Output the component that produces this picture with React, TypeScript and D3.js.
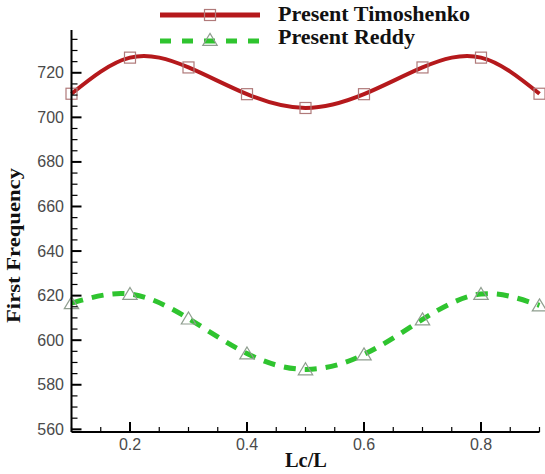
import React from "react";
import * as d3 from "d3";

const lcRatio = [0.1, 0.2, 0.3, 0.4, 0.5, 0.6, 0.7, 0.8, 0.9];
const timoshenko = [710.6, 726.8, 722.4, 710.4, 704.2, 710.4, 722.4, 726.8, 710.6];
const reddy = [616.6, 620.7, 609.7, 594.0, 586.9, 593.6, 609.3, 620.7, 615.6];
const xMajorTicks = [0.2, 0.4, 0.6, 0.8];
const yMajorTicks = [560, 580, 600, 620, 640, 660, 680, 700, 720];
const seriesNames = ["Present Timoshenko", "Present Reddy"];

const W = 545;
const H = 474;
const left = 71.5;
const right = 539.5;
const top = 30;
const bottom = 432;

export default function App() {
  const x = d3.scaleLinear().domain([0.1, 0.9]).range([left, right]);
  const y = d3.scaleLinear().domain([558.8, 739.2]).range([bottom, top]);

  const xMinor = d3.range(0.1, 0.9001, 0.05).filter(
    (v) => !xMajorTicks.some((m) => Math.abs(m - v) < 1e-6)
  );
  const yMinor = d3.range(560, 739, 5).filter((v) => v % 20 !== 0);

  const line = (vals: number[]) =>
    d3
      .line<number>()
      .x((_, i) => x(lcRatio[i]))
      .y((d) => y(d))
      .curve(d3.curveNatural)(vals) || "";

  const red = "#b5191c";
  const green = "#2fc42f";
  const sq = 11;
  const serif = "Liberation Serif, Times New Roman, serif";
  const sans = "Liberation Sans, Arial, sans-serif";
  const tri = (cx: number, cy: number, s: number) =>
    `M${cx},${cy - s * 0.55} L${cx + s * 0.6},${cy + s * 0.45} L${cx - s * 0.6},${cy + s * 0.45} Z`;

  return (
    <svg width={W} height={H} style={{ position: "absolute", left: 0, top: 0, background: "#fff" }}>
      {/* curves */}
      <path d={line(timoshenko)} fill="none" stroke={red} strokeWidth={4} />
      <path d={line(reddy)} fill="none" stroke={green} strokeWidth={5} strokeDasharray="12 9" />
      {/* markers */}
      {timoshenko.map((v, i) => (
        <rect
          key={"s" + i}
          x={x(lcRatio[i]) - sq / 2}
          y={y(v) - sq / 2}
          width={sq}
          height={sq}
          fill="none"
          stroke="#b07a7a"
          strokeWidth={1.2}
        />
      ))}
      {reddy.map((v, i) => (
        <path key={"t" + i} d={tri(x(lcRatio[i]), y(v), 12)} fill="none" stroke="#8f9e8f" strokeWidth={1.2} />
      ))}
      {/* axes */}
      <line x1={left} x2={left} y1={top} y2={bottom} stroke="#000" strokeWidth={2} />
      <line x1={left} x2={right} y1={bottom} y2={bottom} stroke="#000" strokeWidth={2} />
      {xMajorTicks.map((t) => (
        <g key={"xm" + t}>
          <line x1={x(t)} x2={x(t)} y1={bottom} y2={bottom - 10} stroke="#000" strokeWidth={2} />
          <text x={x(t)} y={450} textAnchor="middle" fontFamily={sans} fontSize={16} fill="#4a4a4a">
            {t.toFixed(1)}
          </text>
        </g>
      ))}
      {xMinor.map((t) => (
        <line key={"xn" + t} x1={x(t)} x2={x(t)} y1={bottom} y2={bottom - 5} stroke="#000" strokeWidth={1.2} />
      ))}
      {yMajorTicks.map((t) => (
        <g key={"ym" + t}>
          <line x1={left} x2={left + 10} y1={y(t)} y2={y(t)} stroke="#000" strokeWidth={2} />
          <text x={64} y={y(t) + 5.5} textAnchor="end" fontFamily={sans} fontSize={16} fill="#4a4a4a">
            {t}
          </text>
        </g>
      ))}
      {yMinor.map((t) => (
        <line key={"yn" + t} x1={left} x2={left + 6} y1={y(t)} y2={y(t)} stroke="#000" strokeWidth={1.2} />
      ))}
      {/* axis titles */}
      <text x={306} y={467} textAnchor="middle" fontFamily={serif} fontWeight="bold" fontSize={20} fill="#111"
        textLength={42} lengthAdjust="spacingAndGlyphs">
        Lc/L
      </text>
      <text
        transform={`translate(20,245.5) rotate(-90)`}
        textAnchor="middle"
        fontFamily={serif}
        fontWeight="bold"
        fontSize={19}
        fill="#111"
        textLength={155}
        lengthAdjust="spacingAndGlyphs"
      >
        First Frequency
      </text>
      {/* legend */}
      <line x1={160} x2={260} y1={15} y2={15} stroke={red} strokeWidth={5} />
      <rect x={210 - sq / 2} y={15 - sq / 2} width={sq} height={sq} fill="none" stroke="#b07a7a" strokeWidth={1.2} />
      <text x={278} y={20.5} fontFamily={serif} fontWeight="bold" fontSize={20} fill="#111"
        textLength={192} lengthAdjust="spacingAndGlyphs">
        {seriesNames[0]}
      </text>
      <line x1={160} x2={260} y1={41} y2={41} stroke={green} strokeWidth={5} strokeDasharray="11 11" />
      <path d={tri(210, 40, 12)} fill="none" stroke="#8f9e8f" strokeWidth={1.2} />
      <text x={278} y={43.5} fontFamily={serif} fontWeight="bold" fontSize={20} fill="#111"
        textLength={137} lengthAdjust="spacingAndGlyphs">
        {seriesNames[1]}
      </text>
    </svg>
  );
}
